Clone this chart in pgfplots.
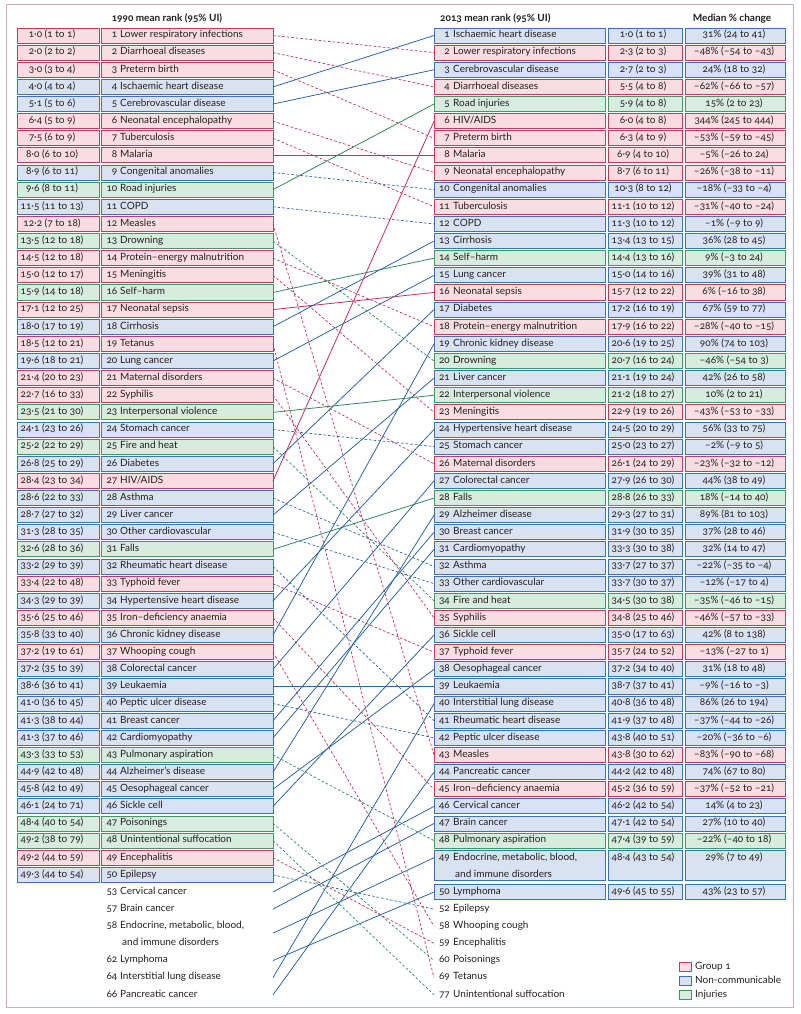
\documentclass[border=0pt]{standalone}
\usepackage{fontspec}
\setmainfont{Lato}[Numbers=OldStyle]
\usepackage{pgfplots}
\pgfplotsset{compat=1.18}
\definecolor{gfill}{HTML}{FADDE2}
\definecolor{gdraw}{HTML}{C23B62}
\definecolor{nfill}{HTML}{D9E2F3}
\definecolor{ndraw}{HTML}{3A74B4}
\definecolor{ifill}{HTML}{D7EBDE}
\definecolor{idraw}{HTML}{3F9868}
\definecolor{lineG}{HTML}{C4305E}
\definecolor{lineN}{HTML}{2D66A6}
\definecolor{lineI}{HTML}{2F8A5C}
\definecolor{framec}{HTML}{D7A9BC}
\definecolor{textc}{HTML}{231F20}
\tikzset{
  boxG/.style={draw=gdraw, fill=gfill, line width=0.9pt},
  boxN/.style={draw=ndraw, fill=nfill, line width=0.9pt},
  boxI/.style={draw=idraw, fill=ifill, line width=0.9pt},
  txt/.style={inner sep=0pt, text height=6.8pt, text depth=2.2pt, font=\fontsize{10}{12}\selectfont, text=textc},
  hdr/.style={inner sep=0pt, text height=6.8pt, text depth=2.2pt, font=\fontsize{10}{12}\selectfont\bfseries, text=textc},
  sG/.style={color=lineG, line width=0.8pt},
  sN/.style={color=lineN, line width=0.8pt},
  sI/.style={color=lineI, line width=0.8pt},
  dG/.style={color=lineG, line width=0.7pt, dash pattern=on 2.6pt off 2pt},
  dN/.style={color=lineN, line width=0.7pt, dash pattern=on 2.6pt off 2pt},
  dI/.style={color=lineI, line width=0.7pt, dash pattern=on 2.6pt off 2pt},
}
% pixel row -> rank position
\newcommand{\py}[1]{{1+(#1-35.5)/17.13}}
% left boxed row: pos, group, value, number, name
\newcommand{\Lbox}[5]{%
  \draw[box#2] (axis cs:17,{#1-0.44}) rectangle (axis cs:99,{#1+0.44});
  \draw[box#2] (axis cs:101,{#1-0.44}) rectangle (axis cs:273,{#1+0.44});
  \node[txt] at (axis cs:52,#1) {#3};
  \node[txt,anchor=east] at (axis cs:117.5,#1) {#4};
  \node[txt,anchor=west] at (axis cs:120,#1) {#5};
}
\newcommand{\Lfree}[3]{%
  \node[txt,anchor=east] at (axis cs:117.5,#1) {#2};
  \node[txt,anchor=west] at (axis cs:120,#1) {#3};
}
% right boxed row: pos, group, number, name, value, change
\newcommand{\Rbox}[6]{%
  \draw[box#2] (axis cs:434,{#1-0.44}) rectangle (axis cs:605,{#1+0.44});
  \draw[box#2] (axis cs:608,{#1-0.44}) rectangle (axis cs:682,{#1+0.44});
  \draw[box#2] (axis cs:685,{#1-0.44}) rectangle (axis cs:785,{#1+0.44});
  \node[txt,anchor=east] at (axis cs:450,#1) {#3};
  \node[txt,anchor=west] at (axis cs:453,#1) {#4};
  \node[txt] at (axis cs:643,#1) {#5};
  \node[txt] at (axis cs:734,#1) {#6};
}
\newcommand{\Rfree}[3]{%
  \node[txt,anchor=east] at (axis cs:450,#1) {#2};
  \node[txt,anchor=west] at (axis cs:453,#1) {#3};
}
\begin{document}
\begin{tikzpicture}
\begin{axis}[scale only axis, width=800pt, height=1014pt,
  xmin=0, xmax=800, ymin=-1.0724, ymax=58.1218, y dir=reverse,
  hide axis, clip=false]
\path (axis cs:0,-1.0724) rectangle (axis cs:800,58.1218);
\draw[framec, line width=1pt] (axis cs:6,\py{4.5}) rectangle (axis cs:793.5,\py{1007});
% headers
\node[hdr] at (axis cs:167,\py{19}) {1990 mean rank (95\% UI)};
\node[hdr,anchor=west] at (axis cs:440,\py{19}) {2013 mean rank (95\% UI)};
\node[hdr] at (axis cs:732,\py{19}) {Median \% change};
% left column (1990)
\Lbox{1}{G}{1·0 (1 to 1)}{1}{Lower respiratory infections}
\Lbox{2}{G}{2·0 (2 to 2)}{2}{Diarrhoeal diseases}
\Lbox{3}{G}{3·0 (3 to 4)}{3}{Preterm birth}
\Lbox{4}{N}{4·0 (4 to 4)}{4}{Ischaemic heart disease}
\Lbox{5}{N}{5·1 (5 to 6)}{5}{Cerebrovascular disease}
\Lbox{6}{G}{6·4 (5 to 9)}{6}{Neonatal encephalopathy}
\Lbox{7}{G}{7·5 (6 to 9)}{7}{Tuberculosis}
\Lbox{8}{G}{8·0 (6 to 10)}{8}{Malaria}
\Lbox{9}{N}{8·9 (6 to 11)}{9}{Congenital anomalies}
\Lbox{10}{I}{9·6 (8 to 11)}{10}{Road injuries}
\Lbox{11}{N}{11·5 (11 to 13)}{11}{COPD}
\Lbox{12}{G}{12·2 (7 to 18)}{12}{Measles}
\Lbox{13}{I}{13·5 (12 to 18)}{13}{Drowning}
\Lbox{14}{G}{14·5 (12 to 18)}{14}{Protein–energy malnutrition}
\Lbox{15}{G}{15·0 (12 to 17)}{15}{Meningitis}
\Lbox{16}{I}{15·9 (14 to 18)}{16}{Self–harm}
\Lbox{17}{G}{17·1 (12 to 25)}{17}{Neonatal sepsis}
\Lbox{18}{N}{18·0 (17 to 19)}{18}{Cirrhosis}
\Lbox{19}{G}{18·5 (12 to 21)}{19}{Tetanus}
\Lbox{20}{N}{19·6 (18 to 21)}{20}{Lung cancer}
\Lbox{21}{G}{21·4 (20 to 23)}{21}{Maternal disorders}
\Lbox{22}{G}{22·7 (16 to 33)}{22}{Syphilis}
\Lbox{23}{I}{23·5 (21 to 30)}{23}{Interpersonal violence}
\Lbox{24}{N}{24·1 (23 to 26)}{24}{Stomach cancer}
\Lbox{25}{I}{25·2 (22 to 29)}{25}{Fire and heat}
\Lbox{26}{N}{26·8 (25 to 29)}{26}{Diabetes}
\Lbox{27}{G}{28·4 (23 to 34)}{27}{HIV/AIDS}
\Lbox{28}{N}{28·6 (22 to 33)}{28}{Asthma}
\Lbox{29}{N}{28·7 (27 to 32)}{29}{Liver cancer}
\Lbox{30}{N}{31·3 (28 to 35)}{30}{Other cardiovascular}
\Lbox{31}{I}{32·6 (28 to 36)}{31}{Falls}
\Lbox{32}{N}{33·2 (29 to 39)}{32}{Rheumatic heart disease}
\Lbox{33}{G}{33·4 (22 to 48)}{33}{Typhoid fever}
\Lbox{34}{N}{34·3 (29 to 39)}{34}{Hypertensive heart disease}
\Lbox{35}{G}{35·6 (25 to 46)}{35}{Iron–deficiency anaemia}
\Lbox{36}{N}{35·8 (33 to 40)}{36}{Chronic kidney disease}
\Lbox{37}{G}{37·2 (19 to 61)}{37}{Whooping cough}
\Lbox{38}{N}{37·2 (35 to 39)}{38}{Colorectal cancer}
\Lbox{39}{N}{38·6 (36 to 41)}{39}{Leukaemia}
\Lbox{40}{N}{41·0 (36 to 45)}{40}{Peptic ulcer disease}
\Lbox{41}{N}{41·3 (38 to 44)}{41}{Breast cancer}
\Lbox{42}{N}{41·3 (37 to 46)}{42}{Cardiomyopathy}
\Lbox{43}{I}{43·3 (33 to 53)}{43}{Pulmonary aspiration}
\Lbox{44}{N}{44·9 (42 to 48)}{44}{Alzheimer's disease}
\Lbox{45}{N}{45·8 (42 to 49)}{45}{Oesophageal cancer}
\Lbox{46}{N}{46·1 (24 to 71)}{46}{Sickle cell}
\Lbox{47}{I}{48·4 (40 to 54)}{47}{Poisonings}
\Lbox{48}{I}{49·2 (38 to 79)}{48}{Unintentional suffocation}
\Lbox{49}{G}{49·2 (44 to 59)}{49}{Encephalitis}
\Lbox{50}{N}{49·3 (44 to 54)}{50}{Epilepsy}
\Lfree{51}{53}{Cervical cancer}
\Lfree{52}{57}{Brain cancer}
\Lfree{53}{58}{Endocrine, metabolic, blood,}
\node[txt,anchor=west] at (axis cs:122,54) {and immune disorders};
\Lfree{55}{62}{Lymphoma}
\Lfree{56}{64}{Interstitial lung disease}
\Lfree{57}{66}{Pancreatic cancer}
% right column (2013)
\Rbox{1}{N}{1}{Ischaemic heart disease}{1·0 (1 to 1)}{31\% (24 to 41)}
\Rbox{2}{G}{2}{Lower respiratory infections}{2·3 (2 to 3)}{–48\% (–54 to –43)}
\Rbox{3}{N}{3}{Cerebrovascular disease}{2·7 (2 to 3)}{24\% (18 to 32)}
\Rbox{4}{G}{4}{Diarrhoeal diseases}{5·5 (4 to 8)}{–62\% (–66 to –57)}
\Rbox{5}{I}{5}{Road injuries}{5·9 (4 to 8)}{15\% (2 to 23)}
\Rbox{6}{G}{6}{HIV/AIDS}{6·0 (4 to 8)}{344\% (245 to 444)}
\Rbox{7}{G}{7}{Preterm birth}{6·3 (4 to 9)}{–53\% (–59 to –45)}
\Rbox{8}{G}{8}{Malaria}{6·9 (4 to 10)}{–5\% (–26 to 24)}
\Rbox{9}{G}{9}{Neonatal encephalopathy}{8·7 (6 to 11)}{–26\% (–38 to –11)}
\Rbox{10}{N}{10}{Congenital anomalies}{10·3 (8 to 12)}{–18\% (–33 to –4)}
\Rbox{11}{G}{11}{Tuberculosis}{11·1 (10 to 12)}{–31\% (–40 to –24)}
\Rbox{12}{N}{12}{COPD}{11·3 (10 to 12)}{–1\% (–9 to 9)}
\Rbox{13}{N}{13}{Cirrhosis}{13·4 (13 to 15)}{36\% (28 to 45)}
\Rbox{14}{I}{14}{Self–harm}{14·4 (13 to 16)}{9\% (–3 to 24)}
\Rbox{15}{N}{15}{Lung cancer}{15·0 (14 to 16)}{39\% (31 to 48)}
\Rbox{16}{G}{16}{Neonatal sepsis}{15·7 (12 to 22)}{6\% (–16 to 38)}
\Rbox{17}{N}{17}{Diabetes}{17·2 (16 to 19)}{67\% (59 to 77)}
\Rbox{18}{G}{18}{Protein–energy malnutrition}{17·9 (16 to 22)}{–28\% (–40 to –15)}
\Rbox{19}{N}{19}{Chronic kidney disease}{20·6 (19 to 25)}{90\% (74 to 103)}
\Rbox{20}{I}{20}{Drowning}{20·7 (16 to 24)}{–46\% (–54 to 3)}
\Rbox{21}{N}{21}{Liver cancer}{21·1 (19 to 24)}{42\% (26 to 58)}
\Rbox{22}{I}{22}{Interpersonal violence}{21·2 (18 to 27)}{10\% (2 to 21)}
\Rbox{23}{G}{23}{Meningitis}{22·9 (19 to 26)}{–43\% (–53 to –33)}
\Rbox{24}{N}{24}{Hypertensive heart disease}{24·5 (20 to 29)}{56\% (33 to 75)}
\Rbox{25}{N}{25}{Stomach cancer}{25·0 (23 to 27)}{–2\% (–9 to 5)}
\Rbox{26}{G}{26}{Maternal disorders}{26·1 (24 to 29)}{–23\% (–32 to –12)}
\Rbox{27}{N}{27}{Colorectal cancer}{27·9 (26 to 30)}{44\% (38 to 49)}
\Rbox{28}{I}{28}{Falls}{28·8 (26 to 33)}{18\% (–14 to 40)}
\Rbox{29}{N}{29}{Alzheimer disease}{29·3 (27 to 31)}{89\% (81 to 103)}
\Rbox{30}{N}{30}{Breast cancer}{31·9 (30 to 35)}{37\% (28 to 46)}
\Rbox{31}{N}{31}{Cardiomyopathy}{33·3 (30 to 38)}{32\% (14 to 47)}
\Rbox{32}{N}{32}{Asthma}{33·7 (27 to 37)}{–22\% (–35 to –4)}
\Rbox{33}{N}{33}{Other cardiovascular}{33·7 (30 to 37)}{–12\% (–17 to 4)}
\Rbox{34}{I}{34}{Fire and heat}{34·5 (30 to 38)}{–35\% (–46 to –15)}
\Rbox{35}{G}{35}{Syphilis}{34·8 (25 to 46)}{–46\% (–57 to –33)}
\Rbox{36}{N}{36}{Sickle cell}{35·0 (17 to 63)}{42\% (8 to 138)}
\Rbox{37}{G}{37}{Typhoid fever}{35·7 (24 to 52)}{–13\% (–27 to 1)}
\Rbox{38}{N}{38}{Oesophageal cancer}{37·2 (34 to 40)}{31\% (18 to 48)}
\Rbox{39}{N}{39}{Leukaemia}{38·7 (37 to 41)}{–9\% (–16 to –3)}
\Rbox{40}{N}{40}{Interstitial lung disease}{40·8 (36 to 48)}{86\% (26 to 194)}
\Rbox{41}{N}{41}{Rheumatic heart disease}{41·9 (37 to 48)}{–37\% (–44 to –26)}
\Rbox{42}{N}{42}{Peptic ulcer disease}{43·8 (40 to 51)}{–20\% (–36 to –6)}
\Rbox{43}{G}{43}{Measles}{43·8 (30 to 62)}{–83\% (–90 to –68)}
\Rbox{44}{N}{44}{Pancreatic cancer}{44·2 (42 to 48)}{74\% (67 to 80)}
\Rbox{45}{G}{45}{Iron–deficiency anaemia}{45·2 (36 to 59)}{–37\% (–52 to –21)}
\Rbox{46}{N}{46}{Cervical cancer}{46·2 (42 to 54)}{14\% (4 to 23)}
\Rbox{47}{N}{47}{Brain cancer}{47·1 (42 to 54)}{27\% (10 to 40)}
\Rbox{48}{I}{48}{Pulmonary aspiration}{47·4 (39 to 59)}{–22\% (–40 to 18)}
% row 49 double height
\draw[boxN] (axis cs:434,48.56) rectangle (axis cs:605,50.34);
\draw[boxN] (axis cs:608,48.56) rectangle (axis cs:682,50.34);
\draw[boxN] (axis cs:685,48.56) rectangle (axis cs:785,50.34);
\node[txt,anchor=east] at (axis cs:450,49) {49};
\node[txt,anchor=west] at (axis cs:453,49) {Endocrine, metabolic, blood,};
\node[txt,anchor=west] at (axis cs:455,50) {and immune disorders};
\node[txt] at (axis cs:643,49) {48·4 (43 to 54)};
\node[txt] at (axis cs:734,49) {29\% (7 to 49)};
\Rbox{51}{N}{50}{Lymphoma}{49·6 (45 to 55)}{43\% (23 to 57)}
\Rfree{52}{52}{Epilepsy}
\Rfree{53}{58}{Whooping cough}
\Rfree{54}{59}{Encephalitis}
\Rfree{55}{60}{Poisonings}
\Rfree{56}{69}{Tetanus}
\Rfree{57}{77}{Unintentional suffocation}
% legend
\draw[boxG, line width=0.7pt] (axis cs:679,\py{962.5}) rectangle (axis cs:691,\py{971.5});
\draw[boxN, line width=0.7pt] (axis cs:679,\py{976.5}) rectangle (axis cs:691,\py{985.5});
\draw[boxI, line width=0.7pt] (axis cs:679,\py{990.5}) rectangle (axis cs:691,\py{999.5});
\node[txt,anchor=west] at (axis cs:695,\py{967}) {Group 1};
\node[txt,anchor=west] at (axis cs:695,\py{981}) {Non-communicable};
\node[txt,anchor=west] at (axis cs:695,\py{995}) {Injuries};
% rank change lines (x: left box edge -> right box edge; y: rank position)
\addplot[dG] coordinates {(273,1) (434,2)};
\addplot[dG] coordinates {(273,2) (434,4)};
\addplot[dG] coordinates {(273,3) (434,7)};
\addplot[sN] coordinates {(273,4) (434,1)};
\addplot[sN] coordinates {(273,5) (434,3)};
\addplot[dG] coordinates {(273,6) (434,9)};
\addplot[dG] coordinates {(273,7) (434,11)};
\addplot[sG] coordinates {(273,8) (434,8)};
\addplot[dN] coordinates {(273,9) (434,10)};
\addplot[sI] coordinates {(273,10) (434,5)};
\addplot[dN] coordinates {(273,11) (434,12)};
\addplot[dG] coordinates {(273,12) (434,43)};
\addplot[dI] coordinates {(273,13) (434,20)};
\addplot[dG] coordinates {(273,14) (434,18)};
\addplot[dG] coordinates {(273,15) (434,23)};
\addplot[sI] coordinates {(273,16) (434,14)};
\addplot[sG] coordinates {(273,17) (434,16)};
\addplot[sN] coordinates {(273,18) (434,13)};
\addplot[dG] coordinates {(273,19) (434,56)};
\addplot[sN] coordinates {(273,20) (434,15)};
\addplot[dG] coordinates {(273,21) (434,26)};
\addplot[dG] coordinates {(273,22) (434,35)};
\addplot[sI] coordinates {(273,23) (434,22)};
\addplot[dN] coordinates {(273,24) (434,25)};
\addplot[dI] coordinates {(273,25) (434,34)};
\addplot[sN] coordinates {(273,26) (434,17)};
\addplot[sG] coordinates {(273,27) (434,6)};
\addplot[dN] coordinates {(273,28) (434,32)};
\addplot[sN] coordinates {(273,29) (434,21)};
\addplot[dN] coordinates {(273,30) (434,33)};
\addplot[sI] coordinates {(273,31) (434,28)};
\addplot[dN] coordinates {(273,32) (434,41)};
\addplot[dG] coordinates {(273,33) (434,37)};
\addplot[sN] coordinates {(273,34) (434,24)};
\addplot[dG] coordinates {(273,35) (434,45)};
\addplot[sN] coordinates {(273,36) (434,19)};
\addplot[dG] coordinates {(273,37) (434,53)};
\addplot[sN] coordinates {(273,38) (434,27)};
\addplot[sN] coordinates {(273,39) (434,39)};
\addplot[dN] coordinates {(273,40) (434,42)};
\addplot[sN] coordinates {(273,41) (434,30)};
\addplot[sN] coordinates {(273,42) (434,31)};
\addplot[dI] coordinates {(273,43) (434,48)};
\addplot[sN] coordinates {(273,44) (434,29)};
\addplot[sN] coordinates {(273,45) (434,38)};
\addplot[sN] coordinates {(273,46) (434,36)};
\addplot[dI] coordinates {(273,47) (434,55)};
\addplot[dI] coordinates {(273,48) (434,57)};
\addplot[dG] coordinates {(273,49) (434,54)};
\addplot[dN] coordinates {(273,50) (434,52)};
\addplot[sN] coordinates {(273,51) (434,46)};
\addplot[sN] coordinates {(273,52) (434,47)};
\addplot[sN] coordinates {(273,53.4) (434,49)};
\addplot[sN] coordinates {(273,55) (434,51)};
\addplot[sN] coordinates {(273,56) (434,40)};
\addplot[sN] coordinates {(273,57) (434,44)};
\end{axis}
\end{tikzpicture}
\end{document}
